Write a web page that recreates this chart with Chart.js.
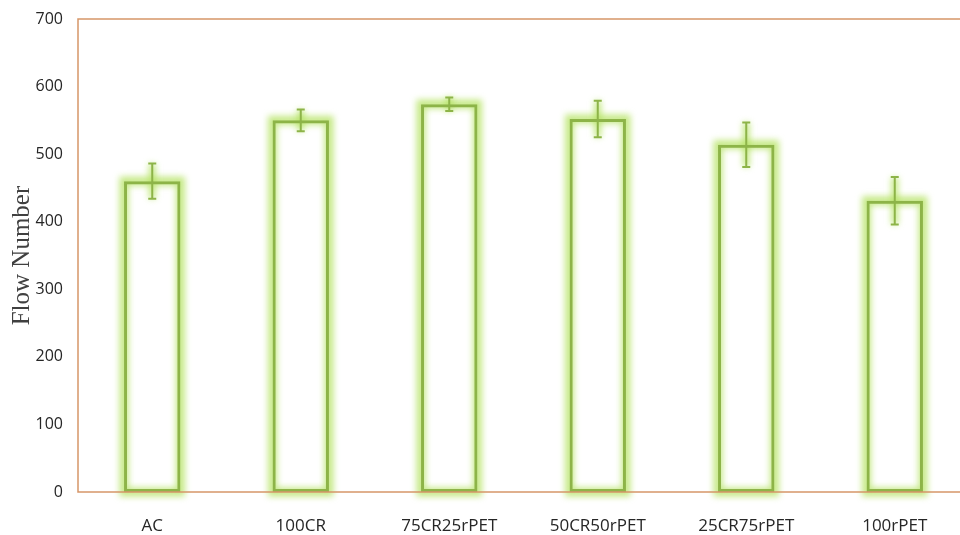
<!DOCTYPE html>
<html>
<head>
<meta charset="utf-8">
<script src="https://cdn.jsdelivr.net/npm/chart.js@4/dist/chart.umd.min.js"></script>
<style>
    html, body { margin: 0; padding: 0; background: #ffffff; overflow: hidden; }
    #wrap { width: 972px; height: 535px; }
</style>
</head>
<body>
<div id="wrap"><canvas id="flowChart"></canvas></div>
<script>
// Flow number per mix, with standard deviation
const mixes = ['AC', '100CR', '75CR25rPET', '50CR50rPET', '25CR75rPET', '100rPET'];
const flowNumber = [460, 550, 574, 552, 514, 431];
const flowError = [26, 16, 10, 27, 33, 35];
const yTicks = [0, 100, 200, 300, 400, 500, 600, 700];

const barColor = 'rgb(141, 180, 72)';
const glowColor = 'rgba(178, 226, 92, 0.75)';
const axisColor = 'rgb(214, 150, 104)';

// soft green halo behind each bar outline and error bar
const glowPlugin = {
    id: 'glow',
    beforeDatasetsDraw(chart) {
        const ctx = chart.ctx;
        const yScale = chart.scales.y;
        const bars = chart.getDatasetMeta(0).data;
        ctx.save();
        ctx.filter = 'blur(3px)';
        ctx.strokeStyle = glowColor;
        bars.forEach((bar, i) => {
            const half = bar.width / 2;
            ctx.lineWidth = 9;
            ctx.strokeRect(bar.x - half, bar.y, bar.width, bar.base - bar.y);
            const top = yScale.getPixelForValue(flowNumber[i] + flowError[i]);
            const bottom = yScale.getPixelForValue(flowNumber[i] - flowError[i]);
            ctx.lineWidth = 7;
            ctx.beginPath();
            ctx.moveTo(bar.x, top);
            ctx.lineTo(bar.x, bottom);
            ctx.stroke();
        });
        ctx.restore();
    }
};

// error bars drawn on top of the bars
const errorBarPlugin = {
    id: 'errorBars',
    afterDatasetsDraw(chart) {
        const ctx = chart.ctx;
        const yScale = chart.scales.y;
        const bars = chart.getDatasetMeta(0).data;
        ctx.save();
        ctx.strokeStyle = barColor;
        ctx.lineWidth = 2;
        bars.forEach((bar, i) => {
            const top = yScale.getPixelForValue(flowNumber[i] + flowError[i]);
            const bottom = yScale.getPixelForValue(flowNumber[i] - flowError[i]);
            ctx.beginPath();
            ctx.moveTo(bar.x, top);
            ctx.lineTo(bar.x, bottom);
            ctx.moveTo(bar.x - 4, top);
            ctx.lineTo(bar.x + 4, top);
            ctx.moveTo(bar.x - 4, bottom);
            ctx.lineTo(bar.x + 4, bottom);
            ctx.stroke();
        });
        ctx.restore();
    }
};

// orange frame around the plot area
const framePlugin = {
    id: 'frame',
    afterDraw(chart) {
        const {ctx, chartArea} = chart;
        ctx.save();
        ctx.strokeStyle = axisColor;
        ctx.lineWidth = 1.5;
        ctx.strokeRect(chartArea.left, chartArea.top, chartArea.right - chartArea.left, chartArea.bottom - chartArea.top);
        ctx.restore();
    }
};

new Chart(document.getElementById('flowChart'), {
    type: 'bar',
    data: {
        labels: mixes,
        datasets: [{
            label: 'Flow Number',
            data: flowNumber,
            backgroundColor: 'rgba(255, 255, 255, 0)',
            borderColor: barColor,
            borderWidth: 3,
            borderSkipped: false,
            barPercentage: 0.38,
            categoryPercentage: 1.0
        }]
    },
    options: {
        responsive: true,
        maintainAspectRatio: false,
        animation: false,
        layout: { padding: { top: 19, right: 3, bottom: 0, left: 0 } },
        plugins: {
            legend: { display: false },
            tooltip: { enabled: false }
        },
        scales: {
            x: {
                grid: { display: false, drawTicks: false },
                border: { display: false },
                afterFit: (scale) => { scale.height = 43; },
                ticks: {
                    padding: 24,
                    color: '#262626',
                    font: { family: 'Open Sans', size: 17 }
                }
            },
            y: {
                min: 0,
                max: 700,
                afterFit: (scale) => {
                    scale.width = 78;
                    scale.paddingTop = 0;
                    scale.paddingBottom = 0;
                },
                afterBuildTicks: (scale) => { scale.ticks = yTicks.map(v => ({ value: v })); },
                grid: { display: false, drawTicks: false },
                border: { display: false },
                ticks: {
                    padding: 15,
                    color: '#262626',
                    font: { family: 'Open Sans', size: 16 }
                },
                title: {
                    display: true,
                    text: 'Flow Number',
                    color: '#404040',
                    padding: { top: 7, bottom: 0 },
                    font: { family: 'Liberation Serif', size: 25 }
                }
            }
        }
    },
    plugins: [glowPlugin, errorBarPlugin, framePlugin]
});
</script>
</body>
</html>
